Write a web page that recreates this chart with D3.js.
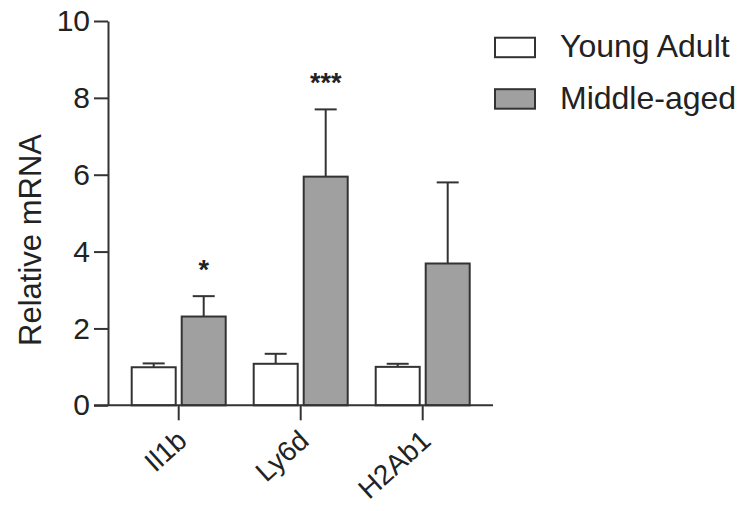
<!DOCTYPE html>
<html>
<head>
<meta charset="utf-8">
<script src="https://cdn.jsdelivr.net/npm/d3@7"></script>
<style>
  html, body { margin: 0; padding: 0; background: #fff; }
  svg { display: block; }
  text { font-family: "Liberation Sans", Arial, Helvetica, sans-serif; fill: #222; }
</style>
</head>
<body>
<svg id="chart" width="740" height="511"></svg>
<script>
const categories = ["Il1b", "Ly6d", "H2Ab1"];
const seriesNames = ["Young Adult", "Middle-aged"];
const youngMeans = [0.99, 1.08, 1.00];
const youngErrors = [0.10, 0.26, 0.08];
const middleMeans = [2.31, 5.95, 3.69];
const middleErrors = [0.53, 1.75, 2.11];
const significance = ["*", "***", ""];
const yTicks = [0, 2, 4, 6, 8, 10];

const fills = ["#ffffff", "#a0a0a0"];
const strokeCol = "#333333";

const svg = d3.select("#chart");

const y = d3.scaleLinear().domain([0, 10]).range([405.3, 21]);
const x = d3.scaleBand().domain(categories).range([117.7, 483.7]).padding(0);
const xs = d3.scaleBand().domain(seriesNames).range([0, x.bandwidth()])
  .paddingInner(0.12).paddingOuter(0.28);

const data = categories.map((c, i) => ({
  cat: c,
  values: [
    { s: seriesNames[0], mean: youngMeans[i], err: youngErrors[i] },
    { s: seriesNames[1], mean: middleMeans[i], err: middleErrors[i] }
  ],
  sig: significance[i]
}));

const groups = svg.selectAll("g.cat").data(data).join("g")
  .attr("class", "cat")
  .attr("transform", d => `translate(${x(d.cat)},0)`);

groups.selectAll("g.err").data(d => d.values).join("g").attr("class", "err")
  .each(function(v) {
    const g = d3.select(this);
    const cx = xs(v.s) + xs.bandwidth() / 2;
    g.append("line").attr("x1", cx).attr("x2", cx)
      .attr("y1", y(v.mean)).attr("y2", y(v.mean + v.err))
      .attr("stroke", strokeCol).attr("stroke-width", 2);
    g.append("line").attr("x1", cx - 11).attr("x2", cx + 11)
      .attr("y1", y(v.mean + v.err)).attr("y2", y(v.mean + v.err))
      .attr("stroke", strokeCol).attr("stroke-width", 2);
  });

groups.selectAll("rect").data(d => d.values).join("rect")
  .attr("x", v => xs(v.s))
  .attr("width", xs.bandwidth())
  .attr("y", v => y(v.mean))
  .attr("height", v => y(0) - y(v.mean))
  .attr("fill", (v, i) => fills[i])
  .attr("stroke", strokeCol)
  .attr("stroke-width", 2);

groups.append("text")
  .attr("x", xs(seriesNames[1]) + xs.bandwidth() / 2)
  .attr("y", d => y(d.values[1].mean + d.values[1].err) - 17)
  .attr("text-anchor", "middle")
  .attr("font-size", 27)
  .attr("font-weight", "bold")
  .attr("fill", "#333")
  .text(d => d.sig);

// axes
const yAxis = d3.axisLeft(y).tickValues(yTicks).tickSize(14).tickSizeOuter(0).tickPadding(4);
const gy = svg.append("g").attr("transform", "translate(108,0)").call(yAxis);
gy.select(".domain").attr("stroke", strokeCol).attr("stroke-width", 2);
gy.selectAll(".tick line").attr("stroke", strokeCol).attr("stroke-width", 2);
gy.selectAll(".tick text").attr("font-size", 30).attr("fill", "#222")
  .attr("font-family", "Liberation Sans, Arial, sans-serif");

const xAxis = d3.axisBottom(x).tickSize(15).tickSizeOuter(0).tickFormat("");
const gx = svg.append("g").attr("transform", `translate(0,${y(0)})`).call(xAxis);
gx.select(".domain").remove();
gx.selectAll(".tick line").attr("stroke", strokeCol).attr("stroke-width", 2);
svg.append("line").attr("x1", 94).attr("x2", 493)
  .attr("y1", y(0)).attr("y2", y(0))
  .attr("stroke", strokeCol).attr("stroke-width", 2);

// category labels
svg.selectAll("text.cat").data(categories).join("text")
  .attr("class", "cat")
  .attr("text-anchor", "end")
  .attr("font-size", 28)
  .attr("transform", c => `translate(${x(c) + x.bandwidth() / 2 + 10},443) rotate(-42)`)
  .text(c => c);

// y label
svg.append("text")
  .attr("transform", "translate(41,240) rotate(-90)")
  .attr("text-anchor", "middle")
  .attr("font-size", 31)
  .text("Relative mRNA");

// legend
const legend = svg.append("g").selectAll("g").data(seriesNames).join("g")
  .attr("transform", (d, i) => `translate(495,${37.7 + i * 51.5})`);
legend.append("rect").attr("width", 40).attr("height", 19.5)
  .attr("fill", (d, i) => fills[i]).attr("stroke", strokeCol).attr("stroke-width", 2);
legend.append("text").attr("x", 65).attr("y", 19.5)
  .attr("font-size", 32).text(d => d);
</script>
</body>
</html>
